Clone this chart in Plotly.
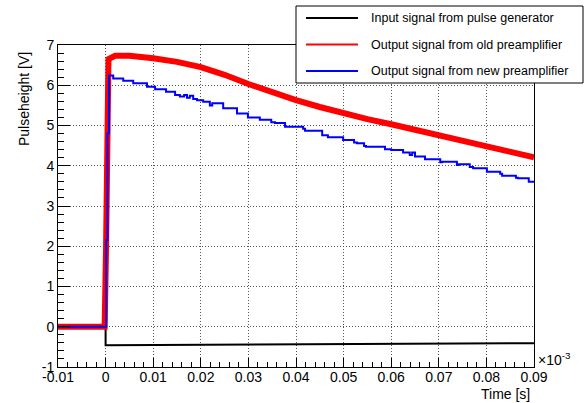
import plotly.graph_objects as go

# ---- data (time in units of 1e-3 s, pulse height in V) ----
input_t = [-0.0100, 0.0000, 0.0000, 0.0200, 0.0400, 0.0600, 0.0800, 0.0900]
input_v = [0.00, 0.00, -0.46, -0.45, -0.44, -0.43, -0.42, -0.41]

old_t = [-0.0100, -0.0002, 0.0001, 0.0003, 0.0006, 0.0020, 0.0050, 0.0100,
         0.0150, 0.0200, 0.0250, 0.0300, 0.0350, 0.0400, 0.0450, 0.0500,
         0.0550, 0.0600, 0.0650, 0.0700, 0.0750, 0.0800, 0.0850, 0.0900]
old_v = [0.00, 0.00, 2.00, 5.50, 6.65, 6.73, 6.73, 6.67,
         6.58, 6.45, 6.26, 6.03, 5.82, 5.63, 5.46, 5.30,
         5.16, 5.03, 4.89, 4.75, 4.61, 4.48, 4.34, 4.21]

new_t = [-0.0100, 0.00013, 0.0004, 0.0007, 0.0016, 0.0037, 0.0058, 0.0087,
         0.0104, 0.0127, 0.0146, 0.0156, 0.0165, 0.0171, 0.0177, 0.0184,
         0.0192, 0.0205, 0.0219, 0.0224, 0.0247, 0.0276, 0.0299, 0.0324,
         0.0348, 0.0356, 0.0377, 0.0415, 0.0419, 0.0455, 0.0467, 0.0499,
         0.0522, 0.0528, 0.0543, 0.0547, 0.0587, 0.0600, 0.0625, 0.0639,
         0.0644, 0.0650, 0.0671, 0.0703, 0.0707, 0.0738, 0.0742, 0.0765,
         0.0772, 0.0801, 0.0829, 0.0833, 0.0862, 0.0866, 0.0889, 0.0900]
new_v = [0.00, 2.15, 4.81, 6.24, 6.17, 6.11, 6.05, 5.96,
         5.90, 5.84, 5.76, 5.72, 5.76, 5.69, 5.74, 5.66,
         5.63, 5.59, 5.50, 5.55, 5.43, 5.30, 5.20, 5.14,
         5.08, 5.06, 4.97, 4.92, 4.87, 4.76, 4.71, 4.64,
         4.58, 4.56, 4.49, 4.47, 4.41, 4.39, 4.33, 4.27,
         4.33, 4.23, 4.16, 4.09, 4.10, 4.02, 4.04, 3.97,
         3.94, 3.85, 3.80, 3.75, 3.70, 3.69, 3.60, 3.60]

series_names = ["Input signal from pulse generator",
                "Output signal from old preamplifier",
                "Output signal from new preamplifier"]
series_colors = ["#000000", "#ff0000", "#0000ff"]

x_tickvals = [-0.01, 0.0, 0.01, 0.02, 0.03, 0.04, 0.05, 0.06, 0.07, 0.08, 0.09]
x_ticktext = ["-0.01", "0", "0.01", "0.02", "0.03", "0.04", "0.05", "0.06",
              "0.07", "0.08", "0.09"]
y_tickvals = [-1, 0, 1, 2, 3, 4, 5, 6, 7]
y_ticktext = ["-1", "0", "1", "2", "3", "4", "5", "6", "7"]

FONT = "Liberation Sans, Arial, Helvetica, sans-serif"

fig = go.Figure()
fig.add_trace(go.Scatter(x=input_t, y=input_v, mode="lines",
                         line=dict(color=series_colors[0], width=2),
                         name=series_names[0], showlegend=False))
fig.add_trace(go.Scatter(x=old_t, y=old_v, mode="lines",
                         line=dict(color=series_colors[1], width=6),
                         name=series_names[1], showlegend=False))
fig.add_trace(go.Scatter(x=new_t, y=new_v, mode="lines",
                         line=dict(color=series_colors[2], width=2, shape="hv"),
                         name=series_names[2], showlegend=False))

# geometry of the plotting frame in pixels (for paper-coordinate helpers)
W, H = 584, 403
ML, MR, MT, MB = 58, 50, 45, 36
PW, PH = W - ML - MR, H - MT - MB


def px(xp):
    return (xp - ML) / PW


def py(yp):
    return (H - MB - yp) / PH


# boxed legend in the top-right corner
shapes = [dict(type="rect", xref="paper", yref="paper",
               x0=px(296), x1=px(583), y0=py(83), y1=py(6),
               fillcolor="white", line=dict(color="black", width=1),
               layer="above")]
annotations = []
row_y = [18, 44.5, 71]
for name, color, ry in zip(series_names, series_colors, row_y):
    shapes.append(dict(type="line", xref="paper", yref="paper",
                       x0=px(306), x1=px(358), y0=py(ry), y1=py(ry),
                       line=dict(color=color, width=2), layer="above"))
    annotations.append(dict(text=name, xref="paper", yref="paper",
                            x=px(369), y=py(ry), xanchor="left",
                            yanchor="middle", showarrow=False,
                            font=dict(family=FONT, size=12.5, color="black")))

# axis titles and exponent marker
annotations.append(dict(text="Time [s]", xref="paper", yref="paper",
                        x=px(532), y=py(394), xanchor="right", yanchor="middle",
                        showarrow=False,
                        font=dict(family=FONT, size=14, color="black")))
annotations.append(dict(text="Pulseheight [V]", xref="paper", yref="paper",
                        x=px(24), y=py(50), xanchor="center", yanchor="top",
                        textangle=-90, showarrow=False,
                        font=dict(family=FONT, size=14, color="black")))
annotations.append(dict(text="\u00d710<sup>-3</sup>", xref="paper", yref="paper",
                        x=px(536), y=py(359), xanchor="left", yanchor="middle",
                        showarrow=False,
                        font=dict(family=FONT, size=14, color="black")))

axis_common = dict(showline=True, linecolor="black", linewidth=1, mirror=True,
                   ticks="inside", tickcolor="black", tickwidth=1,
                   showgrid=True, gridcolor="#555555", gridwidth=1,
                   griddash="1px,2px", zeroline=False,
                   tickfont=dict(family=FONT, size=14, color="black"))

fig.update_xaxes(range=[-0.01, 0.09], tickvals=x_tickvals, ticktext=x_ticktext,
                 ticklen=9, ticklabelstandoff=-3,
                 minor=dict(dtick=0.002, tick0=0, ticks="inside", ticklen=5,
                            tickcolor="black"),
                 **axis_common)
fig.update_yaxes(range=[-1, 7], tickvals=y_tickvals, ticktext=y_ticktext,
                 ticklen=12,
                 minor=dict(dtick=0.2, tick0=0, ticks="inside", ticklen=6,
                            tickcolor="black"),
                 **axis_common)

fig.update_layout(width=W, height=H,
                  margin=dict(l=ML, r=MR, t=MT, b=MB, pad=0),
                  paper_bgcolor="white", plot_bgcolor="white",
                  showlegend=False, shapes=shapes, annotations=annotations,
                  font=dict(family=FONT, size=14, color="black"))

fig.write_html("out.html", config={"displayModeBar": False})
